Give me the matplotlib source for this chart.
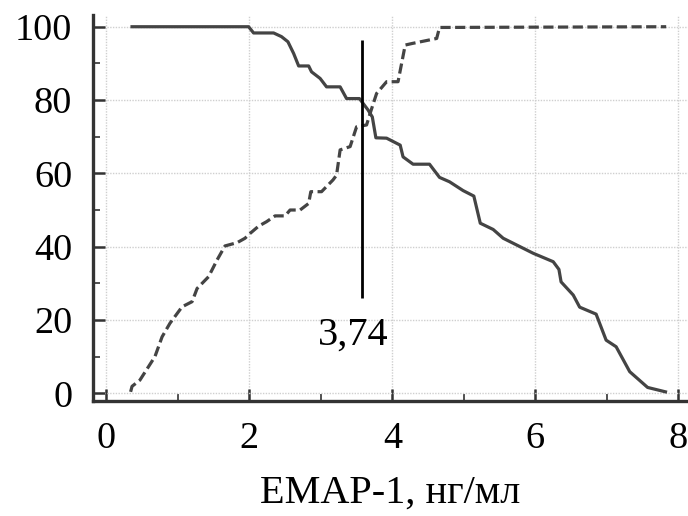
import matplotlib
matplotlib.use("Agg")
import matplotlib.pyplot as plt
from matplotlib.ticker import MultipleLocator

# Specificity-like curve (solid, descending)
spec_x = [0.36, 1.99, 2.06, 2.34, 2.45, 2.54, 2.62, 2.69, 2.83, 2.87, 2.99, 3.08,
          3.27, 3.36, 3.54, 3.66, 3.72, 3.77, 3.92, 4.11, 4.15, 4.29, 4.52, 4.66,
          4.80, 4.99, 5.14, 5.23, 5.41, 5.55, 5.97, 6.25, 6.33, 6.36, 6.53, 6.62,
          6.85, 6.99, 7.13, 7.32, 7.57, 7.82]
spec_y = [100, 100, 98.3, 98.3, 97.3, 95.9, 92.7, 89.3, 89.3, 87.7, 85.9, 83.6,
          83.6, 80.4, 80.4, 77.3, 75.4, 69.7, 69.6, 67.7, 64.5, 62.5, 62.5, 58.9,
          57.7, 55.3, 53.8, 46.4, 44.7, 42.3, 38.2, 35.9, 33.8, 30.4, 26.8, 23.5,
          21.6, 14.5, 12.7, 5.9, 1.6, 0.4]

# Sensitivity-like curve (dashed, ascending)
sens_x = [0.34, 0.36, 0.47, 0.68, 0.78, 0.89, 1.06, 1.20, 1.27, 1.43, 1.55, 1.66,
          1.83, 1.94, 2.01, 2.13, 2.24, 2.36, 2.50, 2.57, 2.71, 2.83, 2.86, 3.01,
          3.17, 3.22, 3.27, 3.41, 3.50, 3.64, 3.69, 3.78, 3.92, 4.08, 4.18, 4.27,
          4.62, 4.66, 7.83]
sens_y = [0.4, 1.9, 3.6, 10, 15.4, 19.1, 23.6, 25, 28.6, 31.8, 36.4, 40.2,
          41.1, 42.3, 43.6, 45.6, 46.8, 48.4, 48.4, 50, 50, 51.8, 55, 55,
          58.2, 59.5, 66.4, 67.3, 72.7, 73.2, 76.4, 81.8, 85, 85, 95, 95.4,
          96.8, 99.8, 100]

cutoff_pos = 3.57
cutoff_span = [25.9, 96.5]
cutoff_label = "3,74"

x_ticks = [0, 2, 4, 6, 8]
y_ticks = [0, 20, 40, 60, 80, 100]
x_label = "EMAP-1, нг/мл"

plt.rcParams['font.family'] = ['Liberation Serif', 'DejaVu Serif']

fig = plt.figure(figsize=(6.88, 5.16), dpi=100)
ax = fig.add_axes([93 / 688, 1 - 401 / 516, 1 - 93 / 688, (401 - 15) / 516])

line_col = '#444444'
ax.plot(spec_x, spec_y, color=line_col, lw=2.3, solid_joinstyle='round')
ax.plot(sens_x, sens_y, color=line_col, lw=2.3, linestyle=(0, (3.2, 1.4)))
ax.vlines(cutoff_pos, cutoff_span[0], cutoff_span[1], color='black', lw=2.0)
ax.text(3.45, 13.2, cutoff_label, ha='center', va='baseline', fontsize=29)

ax.set_xlim(-0.186, 8.135)
ax.set_ylim(-2.1, 103.2)
ax.set_xticks(x_ticks)
ax.set_yticks(y_ticks)
ax.xaxis.set_minor_locator(MultipleLocator(1))
ax.yaxis.set_minor_locator(MultipleLocator(10))

ax.grid(True, which='major', color='#cfcfcf', linestyle=(0, (1, 1)), lw=1.0)
ax.set_axisbelow(True)

for s in ['top', 'right']:
    ax.spines[s].set_visible(False)
for s in ['left', 'bottom']:
    ax.spines[s].set_linewidth(2.4)
    ax.spines[s].set_color('#333333')

ax.tick_params(which='major', direction='in', length=8.8, width=1.8,
               color='#333333', labelsize=27.5, pad=15)
ax.tick_params(which='minor', direction='in', length=5, width=1.2,
               color='#333333')

ax.set_xlabel(x_label, fontsize=29, labelpad=13)

fig.savefig('out.png', dpi=100)
